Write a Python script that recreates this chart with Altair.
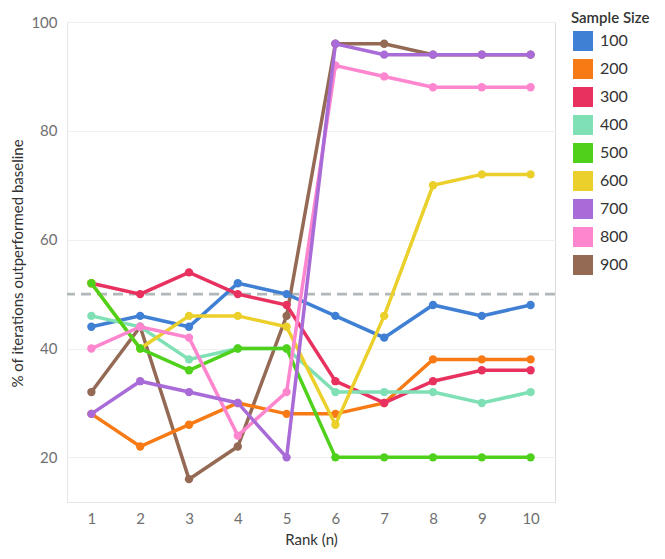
import altair as alt
import pandas as pd

ranks = [1, 2, 3, 4, 5, 6, 7, 8, 9, 10]
sizes = ["100", "200", "300", "400", "500", "600", "700", "800", "900"]
s100 = [44, 46, 44, 52, 50, 46, 42, 48, 46, 48]
s200 = [28, 22, 26, 30, 28, 28, 30, 38, 38, 38]
s300 = [52, 50, 54, 50, 48, 34, 30, 34, 36, 36]
s400 = [46, 44, 38, 40, 40, 32, 32, 32, 30, 32]
s500 = [52, 40, 36, 40, 40, 20, 20, 20, 20, 20]
s600 = [52, 40, 46, 46, 44, 26, 46, 70, 72, 72]
s700 = [28, 34, 32, 30, 20, 96, 94, 94, 94, 94]
s800 = [40, 44, 42, 24, 32, 92, 90, 88, 88, 88]
s900 = [32, 44, 16, 22, 46, 96, 96, 94, 94, 94]
baseline = [50]
colors = ["#3f7fd4", "#f77a15", "#e8315f", "#7fe0b5", "#4fd11c",
          "#ebd02c", "#a96bd8", "#fd86cf", "#946a55"]

series = dict(zip(sizes, [s100, s200, s300, s400, s500, s600, s700, s800, s900]))
draw_order = ["900", "100", "200", "300", "400", "600", "500", "800", "700"]

rows = []
for s in sizes:
    for r, v in zip(ranks, series[s]):
        rows.append({"rank": r, "value": v, "size": s})
df = pd.DataFrame(rows)

FONT = "Lato"
xscale = alt.Scale(domain=[0.5, 10.5], nice=False, zero=False)
yscale = alt.Scale(domain=[11.8, 100], nice=False, zero=False)
cscale = alt.Scale(domain=sizes, range=colors)

xenc = alt.X("rank:Q", scale=xscale,
             axis=alt.Axis(title="Rank (n)", values=ranks, format="d", grid=False,
                           ticks=False, domainColor="#e6e6e6", labelFontSize=15,
                           labelColor="#707070", labelPadding=9, titleFontSize=15,
                           titleColor="#333333", titleFontWeight="normal",
                           titlePadding=6, labelFont=FONT, titleFont=FONT))
yenc = alt.Y("value:Q", scale=yscale,
             axis=alt.Axis(title="% of iterations outperformed baseline",
                           values=[20, 40, 60, 80, 100], grid=True,
                           gridColor="#f0f0f0", ticks=False, domainColor="#e6e6e6",
                           labelFontSize=15, labelColor="#707070", labelPadding=10,
                           titleFontSize=15, titleColor="#333333",
                           titleFontWeight="normal", titleFont=FONT, labelFont=FONT,
                           titleX=-42, titleY=241))
legend = alt.Legend(title="Sample Size", orient="none", legendX=504, legendY=-11,
                    symbolType="square", symbolSize=400, symbolStrokeWidth=0,
                    symbolOpacity=1, rowPadding=8, labelOffset=7, symbolOffset=2,
                    labelFontSize=16, labelColor="#333333", labelFont=FONT,
                    titleFontSize=15, titleColor="#333333", titleFont=FONT,
                    titleFontWeight=600, titlePadding=5)

base = alt.Chart(df)
rule_df = pd.DataFrame({"y": baseline})
rule = alt.Chart(rule_df).mark_rule(color="#b0b8ba", strokeWidth=2.8,
                                    strokeDash=[10, 6]).encode(
    y=alt.Y("y:Q", scale=yscale))

layers = [rule]
for s in draw_order:
    sub = base.transform_filter(alt.datum.size == s)
    col = alt.Color("size:N", scale=cscale, legend=legend)
    pts = sub.mark_circle(size=70, opacity=1).encode(x=xenc, y=yenc, color=col)
    ln = sub.mark_line(strokeWidth=3.5).encode(x=xenc, y=yenc, color=col)
    layers += [pts, ln]

chart = alt.layer(*layers).properties(
    width=488, height=480,
    autosize=alt.AutoSizeParams(type="none"),
    padding={"left": 59, "top": 14, "right": 102, "bottom": 47},
).configure_view(stroke=None).configure(font=FONT)

chart.save("out.html", embed_options={"renderer": "svg", "actions": False})
